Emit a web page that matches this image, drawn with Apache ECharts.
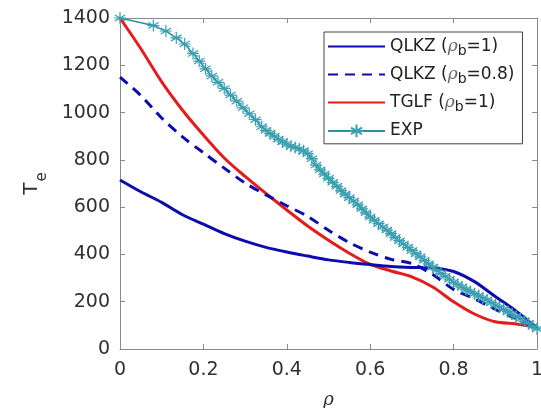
<!DOCTYPE html>
<html>
<head>
<meta charset="utf-8">
<script src="https://cdn.jsdelivr.net/npm/echarts@6/dist/echarts.min.js"></script>
<style>html,body{margin:0;padding:0;background:#fff}#c{width:541px;height:408px}</style>
</head>
<body>
<div id="c"></div>
<script>
// ---- data ----
const xTicks = [0, 0.2, 0.4, 0.6, 0.8, 1];
const yTicks = [0, 200, 400, 600, 800, 1000, 1200, 1400];
const rhoModel = [0, 0.05, 0.1, 0.15, 0.2, 0.25, 0.3, 0.35, 0.4, 0.45, 0.5, 0.55, 0.6, 0.65, 0.7, 0.75, 0.8, 0.85, 0.9, 0.95, 1.0];
const qlkz1  = [715, 665, 620, 568, 528, 488, 456, 430, 410, 393, 377, 366, 357, 349, 345, 343, 328, 285, 222, 160, 88];
const qlkz08 = [1150, 1072, 977, 897, 830, 765, 702, 652, 606, 561, 502, 450, 410, 379, 361, 315, 252, 212, 168, 128, 85];
const tglf   = [1400, 1270, 1130, 1010, 905, 808, 730, 658, 588, 520, 460, 405, 358, 330, 305, 262, 200, 148, 115, 106, 92];
const rhoExp = [0, 0.08, 0.11, 0.135, 0.155, 0.175, 0.19, 0.205, 0.22, 0.235, 0.25, 0.265, 0.28, 0.295, 0.31, 0.325, 0.34,
  0.35, 0.36, 0.37, 0.38, 0.39, 0.40, 0.41, 0.42, 0.43, 0.44, 0.45, 0.46, 0.47, 0.48, 0.49, 0.50, 0.51, 0.52, 0.53, 0.54,
  0.55, 0.56, 0.57, 0.58, 0.59, 0.60, 0.61, 0.62, 0.63, 0.64, 0.65, 0.66, 0.67, 0.68, 0.69, 0.70, 0.71, 0.72, 0.73, 0.74,
  0.75, 0.76, 0.77, 0.78, 0.79, 0.80, 0.81, 0.82, 0.83, 0.84, 0.85, 0.86, 0.87, 0.88, 0.89, 0.90, 0.91, 0.92, 0.93, 0.94,
  0.95, 0.96, 0.97, 0.98, 0.99, 1.00];
const teExp = [1400, 1368, 1345, 1316, 1290, 1250, 1218, 1185, 1155, 1128, 1102, 1074, 1048, 1020, 995, 970, 940,
  925, 912, 900, 888, 876, 866, 858, 852, 846, 838, 826, 805, 778, 758, 740, 722, 705, 688, 670, 655,
  640, 626, 610, 593, 576, 558, 545, 530, 516, 503, 488, 472, 458, 444, 430, 417, 403, 390, 375, 360,
  347, 333, 320, 308, 295, 283, 272, 262, 252, 243, 234, 225, 216, 207, 196, 186, 178, 168, 158, 148,
  138, 128, 118, 108, 96, 85];
const names = ['QLKZ1', 'QLKZ08', 'TGLF', 'EXP'];
// ---------------------------------------

const zip = (xs, ys) => xs.map((x, i) => [x, ys[i]]);
const FONT = 'DejaVu Sans';
const axisCol = '#8a8a8a';
const txt = '#303030';
const blue = '#0c0cae';
const red = '#e41c1c';
const teal = '#2f8f9e';
const star = 'path://M0,-10L0,10M-8.66,-5L8.66,5M-8.66,5L8.66,-5M-10,0L10,0';

const legendLabels = {
  QLKZ1: '{n|QLKZ (}{r|ρ}{s|b}{n|=1)}',
  QLKZ08: '{n|QLKZ (}{r|ρ}{s|b}{n|=0.8)}',
  TGLF: '{n|TGLF (}{r|ρ}{s|b}{n|=1)}',
  EXP: '{n|EXP}'
};

const chart = echarts.init(document.getElementById('c'), null, {renderer: 'canvas'});
const baseX = {
  type: 'value', min: 0, max: 1, interval: 0.2,
  axisLine: {show: true, onZero: false, lineStyle: {color: axisCol, width: 1}},
  axisTick: {show: true, inside: true, length: 5, lineStyle: {color: axisCol}},
  splitLine: {show: false}
};
const baseY = {
  type: 'value', min: 0, max: 1400, interval: 200,
  axisLine: {show: true, onZero: false, lineStyle: {color: axisCol, width: 1}},
  axisTick: {show: true, inside: true, length: 5, lineStyle: {color: axisCol}},
  splitLine: {show: false}
};
chart.setOption({
  animation: false,
  backgroundColor: '#fff',
  grid: {left: 120, right: 4, top: 18, bottom: 59, containLabel: false, outerBoundsMode: 'none'},
  xAxis: [
    Object.assign({}, baseX, {
      position: 'bottom',
      axisLabel: {show: true, margin: 12, color: txt, fontFamily: FONT, fontSize: 19,
        formatter: v => xTicks.includes(Math.round(v * 10) / 10) ? String(Math.round(v * 10) / 10) : ''},
      name: 'ρ', nameLocation: 'middle', nameGap: 42, nameMoveOverlap: false,
      nameTextStyle: {fontFamily: 'DejaVu Serif', fontStyle: 'italic', fontSize: 18, color: txt}
    }),
    Object.assign({}, baseX, {position: 'top', axisLabel: {show: false}})
  ],
  yAxis: [
    Object.assign({}, baseY, {
      position: 'left',
      axisLabel: {show: true, margin: 10, color: txt, fontFamily: FONT, fontSize: 19,
        formatter: v => yTicks.includes(Math.round(v)) ? String(Math.round(v)) : ''},
      name: '{t|T}{e|e}', nameLocation: 'middle', nameGap: 70, nameRotate: 90, nameMoveOverlap: false,
      nameTextStyle: {
        rich: {
          t: {fontFamily: FONT, fontSize: 20, color: txt, padding: [0, 0, 8, 0]},
          e: {fontFamily: FONT, fontSize: 15, color: txt, padding: [14, 0, 0, 1]}
        }
      }
    }),
    Object.assign({}, baseY, {position: 'right', axisLabel: {show: false}})
  ],
  legend: {
    show: true, orient: 'vertical', left: 324, top: 32,
    data: [
      {name: 'QLKZ1', itemStyle: {opacity: 0}},
      {name: 'QLKZ08', itemStyle: {opacity: 0}},
      {name: 'TGLF', itemStyle: {opacity: 0}},
      {name: 'EXP'}
    ],
    backgroundColor: '#fff', borderColor: '#444', borderWidth: 1,
    padding: [6, 8, 4, 3], itemGap: 8, itemWidth: 57, itemHeight: 16,
    formatter: n => legendLabels[n],
    textStyle: {
      color: '#222', fontFamily: FONT, fontSize: 17,
      rich: {
        n: {fontFamily: FONT, fontSize: 17, color: '#222'},
        r: {fontFamily: 'DejaVu Serif', fontStyle: 'italic', fontSize: 17, color: '#666'},
        s: {fontFamily: FONT, fontSize: 14, color: '#222', padding: [9, 0, 0, 0]}
      }
    }
  },
  series: [
    {name: 'QLKZ1', type: 'line', data: zip(rhoModel, qlkz1), smooth: 0.3, showSymbol: false, symbol: 'none',
      lineStyle: {color: blue, width: 3}, itemStyle: {color: blue}, z: 3},
    {name: 'QLKZ08', type: 'line', data: zip(rhoModel, qlkz08), smooth: 0.3, showSymbol: false, symbol: 'none',
      lineStyle: {color: blue, width: 3, type: [10, 7]}, itemStyle: {color: blue}, z: 3},
    {name: 'TGLF', type: 'line', data: zip(rhoModel, tglf), smooth: 0.3, showSymbol: false, symbol: 'none',
      lineStyle: {color: red, width: 3}, itemStyle: {color: red}, z: 2},
    {name: 'EXP', type: 'line', data: zip(rhoExp, teExp), smooth: false, showSymbol: true,
      symbol: star, symbolSize: 12,
      lineStyle: {color: teal, width: 1.5},
      itemStyle: {color: 'none', borderColor: '#3a9fb0', borderWidth: 1.2}, z: 4}
  ]
});
</script>
</body>
</html>
